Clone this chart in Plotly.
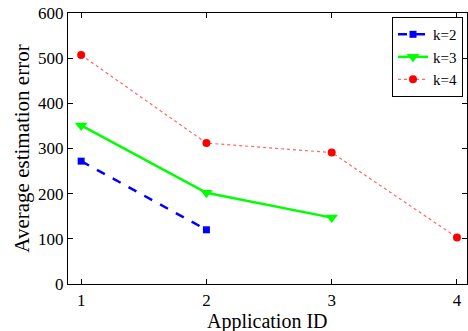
import plotly.graph_objects as go

app_k2 = [1, 2]
err_k2 = [272, 120]
app_k3 = [1, 2, 3]
err_k3 = [351, 202, 147]
app_k4 = [1, 2, 3, 4]
err_k4 = [507, 312, 291, 103]

x_ticks = [1, 2, 3, 4]
y_ticks = [0, 100, 200, 300, 400, 500, 600]

font = "Liberation Serif"

fig = go.Figure()
fig.add_trace(go.Scatter(x=app_k2, y=err_k2, name="k=2", mode="lines+markers",
                         line=dict(color="#0000ff", width=2.5, dash="dash"),
                         marker=dict(symbol="square", size=7, color="#0000ff")))
fig.add_trace(go.Scatter(x=app_k3, y=err_k3, name="k=3", mode="lines+markers",
                         line=dict(color="#00ff00", width=2.5),
                         marker=dict(symbol="triangle-down", size=11, color="#00ff00")))
fig.add_trace(go.Scatter(x=app_k4, y=err_k4, name="k=4", mode="lines+markers",
                         line=dict(color="#ff6666", width=1.2, dash="dot"),
                         marker=dict(symbol="circle", size=8, color="#ff0000")))

axis_common = dict(showline=True, linecolor="black", linewidth=1.3, mirror="ticks",
                   ticks="inside", ticklen=5, tickcolor="black", showgrid=False,
                   zeroline=False, automargin=False,
                   tickfont=dict(family=font, size=17, color="black"))

fig.update_layout(
    width=468, height=331,
    margin=dict(l=68, r=1, t=13, b=47),
    paper_bgcolor="white", plot_bgcolor="white",
    font=dict(family=font, color="black"),
    xaxis=dict(range=[0.895, 4.08], tickvals=x_ticks, ticktext=[str(v) for v in x_ticks],
               **axis_common),
    yaxis=dict(range=[0, 600], tickvals=y_ticks, ticktext=[str(v) for v in y_ticks],
               title=dict(text="Average estimation error", font=dict(family=font, size=21), standoff=2),
               **axis_common),
    legend=dict(x=0.99, y=0.985, xanchor="right", yanchor="top",
                bgcolor="white", bordercolor="black", borderwidth=1,
                font=dict(family=font, size=15), tracegroupgap=0, itemwidth=30,
                traceorder="normal"),
    showlegend=True,
    annotations=[dict(text="Application ID", xref="paper", yref="paper", x=0.5, y=0,
                      xanchor="center", yanchor="top", yshift=-24, showarrow=False,
                      font=dict(family=font, size=20, color="black"))],
)

fig.write_html("out.html", config={"displayModeBar": False},
               post_script="document.body.style.margin='0';document.body.style.padding='0';")
